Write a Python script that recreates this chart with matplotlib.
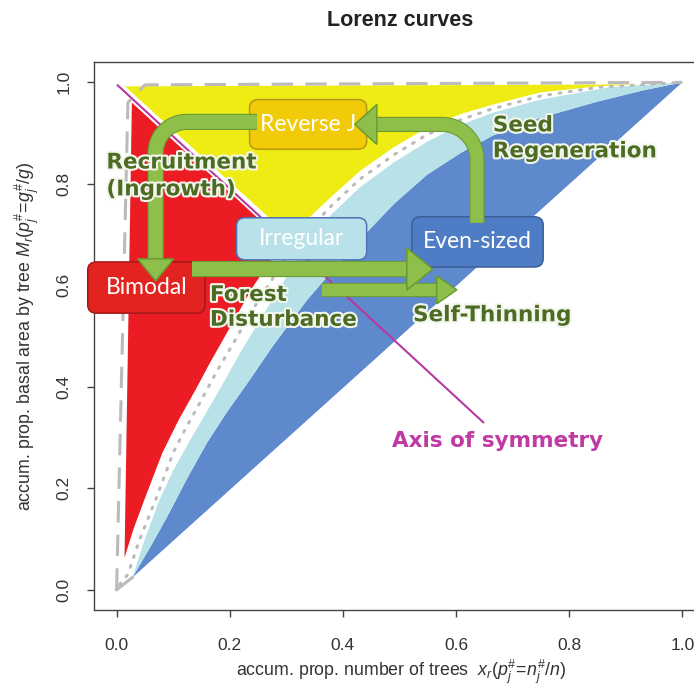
import numpy as np
import matplotlib.pyplot as plt
from matplotlib.patches import Polygon, FancyBboxPatch
import matplotlib.patheffects as pe

plt.rcParams['font.family'] = ['Liberation Sans', 'DejaVu Sans']
plt.rcParams['mathtext.fontset'] = 'custom'
plt.rcParams['mathtext.rm'] = 'Liberation Sans'
plt.rcParams['mathtext.it'] = 'Liberation Sans:italic'

# --- Lorenz curve envelopes (x: accum. prop. trees, y: accum. prop. basal area)
# even-sized stands: between the equality line and the lower irregular edge
equal_x = [0.028, 1.0]
equal_y = [0.024, 1.0]
even_top_x = [0.028, 0.06, 0.09, 0.125, 0.16, 0.195, 0.23, 0.276, 0.336, 0.39,
              0.43, 0.49, 0.549, 0.61, 0.665, 0.749, 0.85, 0.93, 1.0]
even_top_y = [0.024, 0.085, 0.145, 0.22, 0.29, 0.35, 0.405, 0.48, 0.57, 0.64,
              0.69, 0.76, 0.818, 0.862, 0.895, 0.93, 0.962, 0.984, 1.0]
# irregular stands: upper edge
irr_top_x = [0.028, 0.05, 0.075, 0.1, 0.13, 0.16, 0.19, 0.22, 0.25, 0.28, 0.31,
             0.34, 0.38, 0.43, 0.49, 0.549, 0.61, 0.665, 0.749, 0.87, 1.0]
irr_top_y = [0.024, 0.1, 0.175, 0.235, 0.295, 0.352, 0.41, 0.47, 0.525, 0.58,
             0.635, 0.685, 0.74, 0.793, 0.842, 0.883, 0.917, 0.94, 0.966, 0.99, 1.0]
# bimodal stands: right edge, then the edge along the symmetry axis
bim_x = [0.014, 0.03, 0.05, 0.081, 0.11, 0.14, 0.165, 0.205, 0.241, 0.295, 0.027]
bim_y = [0.063, 0.12, 0.18, 0.27, 0.335, 0.395, 0.447, 0.526, 0.597, 0.686, 0.960]
# reverse-J stands: symmetry-axis edge, lower curve, top edge
rj_x = [0.015, 0.305, 0.342, 0.38, 0.43, 0.49, 0.549, 0.61, 0.665, 0.749, 0.85, 0.93]
rj_y = [0.992, 0.697, 0.735, 0.775, 0.825, 0.872, 0.911, 0.938, 0.956, 0.98, 0.992, 0.996]
# reference curves
maxineq_x = [0.0, 0.02, 0.05, 1.0]
maxineq_y = [0.0, 0.96, 0.995, 1.0]
mid_x = [0.005, 0.02, 0.04, 0.07, 0.1, 0.123, 0.147, 0.177, 0.205, 0.241, 0.28,
         0.31, 0.34, 0.38, 0.43, 0.49, 0.549, 0.61, 0.665, 0.749, 0.85, 1.0]
mid_y = [0.01, 0.03, 0.097, 0.18, 0.27, 0.32, 0.368, 0.43, 0.483, 0.553, 0.62,
         0.668, 0.71, 0.757, 0.809, 0.857, 0.897, 0.927, 0.948, 0.973, 0.99, 1.0]
diag_x = [0.0, 0.028]
diag_y = [0.0, 0.024]
sym_x = [0.002, 0.648]
sym_y = [0.994, 0.330]

# stand-type boxes: label, (x0, y0, w, h), face, edge
boxes = [
    ('Reverse J', (0.235, 0.868, 0.207, 0.098), '#F1CB08', '#B49A10'),
    ('Irregular', (0.212, 0.650, 0.230, 0.083), '#B9E1E9', '#4B74B4'),
    ('Even-sized', (0.522, 0.636, 0.232, 0.099), '#4F7DC5', '#3A5E99'),
    ('Bimodal', (-0.051, 0.545, 0.207, 0.101), '#E3231F', '#A3191A'),
]
# arrows: centre line (data), corner radius px, shaft px, head half-width px, head length px
arrows = [
    ([(0.248, 0.922), (0.069, 0.922), (0.069, 0.652)], 31, 14, 18, 22),
    ([(0.133, 0.632), (0.513, 0.632)], 0, 14, 21, 26),
    ([(0.363, 0.591), (0.566, 0.591)], 0, 12, 14, 20),
    ([(0.637, 0.723), (0.637, 0.917), (0.460, 0.917)], 35, 13, 20, 22),
]
green_labels = [
    ('Recruitment', -0.018, 0.842), ('(Ingrowth)', -0.018, 0.789),
    ('Forest', 0.165, 0.581), ('Disturbance', 0.165, 0.532),
    ('Seed', 0.665, 0.915), ('Regeneration', 0.665, 0.864),
    ('Self-Thinning', 0.524, 0.541),
]

GREEN = '#8DBF4A'
GREEN_EDGE = '#6C9A33'


def fillet(ax, pts, r):
    d = ax.transData.transform(pts)
    out = [d[0]]
    for i in range(1, len(d) - 1):
        a, p, b = d[i - 1], d[i], d[i + 1]
        u1 = (a - p) / np.hypot(*(a - p))
        u2 = (b - p) / np.hypot(*(b - p))
        c = p + (u1 + u2) * r
        t1 = p + u1 * r
        t2 = p + u2 * r
        a0 = np.arctan2(t1[1] - c[1], t1[0] - c[0])
        a1 = np.arctan2(t2[1] - c[1], t2[0] - c[0])
        da = (a1 - a0 + np.pi) % (2 * np.pi) - np.pi
        ang = a0 + np.linspace(0, da, 24)
        out.extend(c + r * np.column_stack([np.cos(ang), np.sin(ang)]))
    out.append(d[-1])
    return np.array(out)


def draw_arrow(ax, pts, radius, shaft, head_w, head_l):
    px = fillet(ax, pts, radius) if radius else ax.transData.transform(pts)
    line = ax.transData.inverted().transform(px)
    lw = shaft * 72 / fig.dpi
    ax.plot(line[:, 0], line[:, 1], color=GREEN, lw=lw, solid_capstyle='butt',
            solid_joinstyle='round', zorder=6,
            path_effects=[pe.Stroke(linewidth=lw + 1.6, foreground=GREEN_EDGE),
                          pe.Normal()])
    end = px[-1]
    v = px[-1] - px[-2]
    v = v / np.hypot(*v)
    n = np.array([-v[1], v[0]])
    tri = np.array([end + n * head_w, end + v * head_l, end - n * head_w])
    ax.add_patch(Polygon(ax.transData.inverted().transform(tri), closed=True,
                         facecolor=GREEN, edgecolor=GREEN_EDGE, lw=1.1,
                         joinstyle='miter', zorder=6.5))


fig = plt.figure(figsize=(6.94, 6.86), dpi=100)
ax = fig.add_axes([0.1354, 0.1108, 0.8804, 0.7988])
ax.set_xlim(-0.04, 1.04)
ax.set_ylim(-0.04, 1.04)

# shaded envelopes
ax.fill(equal_x + even_top_x[::-1], equal_y + even_top_y[::-1],
        color='#5E89CD', lw=0, zorder=1)
ax.fill(even_top_x + irr_top_x[::-1], even_top_y + irr_top_y[::-1],
        color='#B8E2E8', lw=0, zorder=1.2)
ax.fill(bim_x, bim_y, color='#EC1C24', lw=0, zorder=1.4)
ax.fill(rj_x, rj_y, color='#EFEC14', lw=0, zorder=1.4)

# reference curves
ax.plot(diag_x, diag_y, color='#BBBBBB', lw=2.2, zorder=3)
ax.plot(maxineq_x, maxineq_y, color='#BBBBBB', lw=2.2, ls=(0, (7, 4)), zorder=3)
ax.plot(mid_x, mid_y, color='#BBBBBB', lw=2.2, ls=(0, (0.6, 2.8)),
        dash_capstyle='round', zorder=3)
ax.plot(sym_x, sym_y, color='#B7399F', lw=1.5, zorder=4)

for label, (x0, y0, w, h), fc, ec in boxes:
    ax.add_patch(FancyBboxPatch((x0, y0), w, h,
                                boxstyle='round,pad=0,rounding_size=0.016',
                                facecolor=fc, edgecolor=ec, lw=1.1,
                                zorder=5, clip_on=False))
    ax.text(x0 + w / 2, y0 + h / 2, label, color='white', fontsize=16.5,
            family=['Lato', 'DejaVu Sans'], ha='center', va='center', zorder=5.5)

for pts, r, s, hw, hl in arrows:
    draw_arrow(ax, pts, r, s, hw, hl)

halo = [pe.withStroke(linewidth=3, foreground='#f2f6ec')]
for txt, x, y in green_labels:
    ax.text(x, y, txt, color='#4C6B23', fontsize=15.5, weight='bold',
            family=['DejaVu Sans'], ha='left', va='center', zorder=8,
            path_effects=halo)
ax.text(0.487, 0.294, 'Axis of symmetry', color='#BF3AA3', fontsize=15.5,
        weight='bold', family=['DejaVu Sans'], ha='left', va='center', zorder=8)

# axes styling
for s in ax.spines.values():
    s.set_color('#444444')
    s.set_linewidth(1.0)
ax.set_xticks([0, 0.2, 0.4, 0.6, 0.8, 1.0])
ax.set_yticks([0, 0.2, 0.4, 0.6, 0.8, 1.0])
ax.set_xticklabels(['0.0', '0.2', '0.4', '0.6', '0.8', '1.0'])
ax.set_yticklabels(['0.0', '0.2', '0.4', '0.6', '0.8', '1.0'],
                   rotation=90, va='center')
ax.tick_params(axis='both', direction='out', length=5, width=1.0,
               color='#444444', labelsize=12.5, labelcolor='#333333')
ax.tick_params(axis='x', pad=15)
ax.tick_params(axis='y', pad=11)

fig.text(400 / 694, 1 - 20 / 686, 'Lorenz curves', ha='center', va='center',
         fontsize=15.5, weight='bold', color='#222222')
fig.text(401 / 694, 1 - 672 / 686,
         r'accum. prop. number of trees  $x_r(p_j^{\#}\!=\!n_j^{\#}/n)$',
         ha='center', va='center', fontsize=12.8, color='#333333')
fig.text(27 / 694, 1 - 336 / 686,
         r'accum. prop. basal area by tree $M_r(p_j^{\#}\!=\!g_j^{\#}/g)$',
         ha='center', va='center', rotation=90, fontsize=12.8, color='#333333')

fig.savefig('out.png', dpi=100)
